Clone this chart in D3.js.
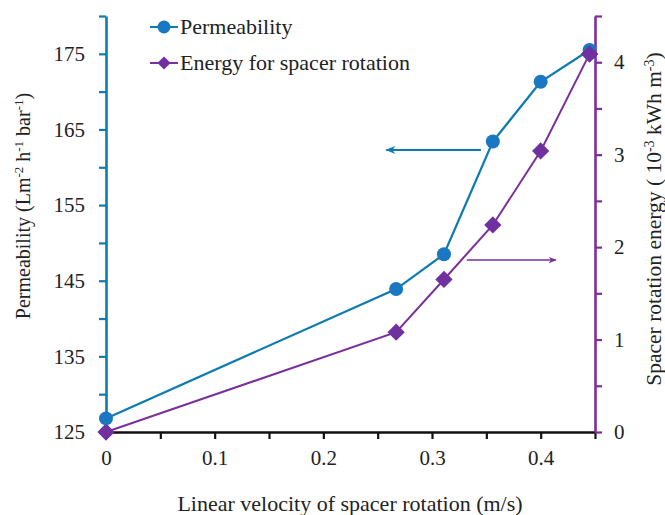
<!DOCTYPE html>
<html><head><meta charset="utf-8">
<script src="https://cdn.jsdelivr.net/npm/d3@7"></script>
<style>
html,body{margin:0;padding:0;background:#fff;}
svg{display:block;font-family:"Liberation Serif","Times New Roman",serif;}
</style></head>
<body>
<svg id="c" width="665" height="515"></svg>
<script>
// ---- data ----
const velocity = [0, 0.267, 0.311, 0.356, 0.400, 0.445];
const permeability = [126.8, 143.9, 148.5, 163.4, 171.3, 175.5];
const energy = [0, 1.08, 1.65, 2.24, 3.04, 4.09];
const xTicks = [0, 0.05, 0.1, 0.15, 0.2, 0.25, 0.3, 0.35, 0.4, 0.45];
const xTickLabels = ["0", "", "0.1", "", "0.2", "", "0.3", "", "0.4", ""];
const leftTicks = [125,130,135,140,145,150,155,160,165,170,175,180];
const leftTickLabels = ["125","","135","","145","","155","","165","","175",""];
const rightTicks = [0,0.5,1,1.5,2,2.5,3,3.5,4,4.5];
const rightTickLabels = ["0","","1","","2","","3","","4",""];
const seriesNames = ["Permeability", "Energy for spacer rotation"];
// annotation arrows: [x0, x1, y] in data units
const permArrow = [0.345, 0.258, 162.3];
const energyArrow = [0.332, 0.414, 1.86];

const blue = "#0e7bb0", blueMarker = "#1a78c2", purple = "#7a2f9c", purpleMarker = "#7030a0";

const W = 665, H = 515;
const m = {left:106, right:70, top:16, bottom:83};
const svg = d3.select("#c");

const x = d3.scaleLinear().domain([0, 0.45]).range([m.left, W - m.right]);
const yL = d3.scaleLinear().domain([125, 180]).range([H - m.bottom, m.top]);
const yR = d3.scaleLinear().domain([0, 4.5]).range([H - m.bottom, m.top]);

const defs = svg.append("defs");
function marker(id, col){
  defs.append("marker").attr("id", id).attr("viewBox","0 0 10 10").attr("refX",9).attr("refY",5)
    .attr("markerWidth",5).attr("markerHeight",5).attr("orient","auto")
    .append("path").attr("d","M0,1 L10,5 L0,9 L3,5 Z").attr("fill", col);
}
marker("ab", blue); marker("ap", purple);

// axes
const fs = 21;
const xa = svg.append("g").attr("transform",`translate(0,${H-m.bottom})`)
  .call(d3.axisBottom(x).tickValues(xTicks).tickFormat((d,i)=>xTickLabels[i]).tickSize(7).tickSizeOuter(0).tickPadding(11));
xa.select(".domain").attr("stroke","#111").attr("stroke-width",2.6);
xa.selectAll(".tick line").attr("stroke","#111").attr("stroke-width",2.2);
xa.selectAll("text").attr("font-size",fs).attr("fill","#222").attr("font-family","Liberation Serif");

const la = svg.append("g").attr("transform",`translate(${m.left},0)`)
  .call(d3.axisLeft(yL).tickValues(leftTicks).tickFormat((d,i)=>leftTickLabels[i]).tickSize(7).tickSizeOuter(0).tickPadding(14));
la.select(".domain").attr("stroke",blue).attr("stroke-width",2.6);
la.selectAll(".tick line").attr("stroke",blue).attr("stroke-width",2.2);
la.selectAll("text").attr("font-size",fs).attr("fill","#222").attr("font-family","Liberation Serif");

const ra = svg.append("g").attr("transform",`translate(${W-m.right},0)`)
  .call(d3.axisRight(yR).tickValues(rightTicks).tickFormat((d,i)=>rightTickLabels[i]).tickSize(7).tickSizeOuter(0).tickPadding(12));
ra.select(".domain").attr("stroke",purple).attr("stroke-width",2.6);
ra.selectAll(".tick line").attr("stroke",purple).attr("stroke-width",2.2);
ra.selectAll("text").attr("font-size",fs).attr("fill","#222").attr("font-family","Liberation Serif");

// series
const pts = velocity.map((v,i)=>({v, p:permeability[i], e:energy[i]}));
const lineP = d3.line().x(d=>x(d.v)).y(d=>yL(d.p));
const lineE = d3.line().x(d=>x(d.v)).y(d=>yR(d.e));

svg.append("path").datum(pts).attr("d",lineE).attr("fill","none").attr("stroke",purple).attr("stroke-width",2);
svg.append("path").datum(pts).attr("d",lineP).attr("fill","none").attr("stroke",blue).attr("stroke-width",2.2);

const hasD2 = !!d3.symbolDiamond2;
const diamond = d3.symbol().type(d3.symbolDiamond2 || d3.symbolSquare).size(190);
svg.selectAll(".dE").data(pts).join("path")
  .attr("transform",d=>`translate(${x(d.v)},${yR(d.e)}) rotate(${hasD2?0:45})`)
  .attr("d",diamond).attr("fill",purpleMarker);
svg.selectAll(".cP").data(pts).join("circle")
  .attr("cx",d=>x(d.v)).attr("cy",d=>yL(d.p)).attr("r",7).attr("fill",blueMarker);
// energy last marker drawn over permeability as in reference
svg.append("path").attr("transform",`translate(${x(velocity[5])},${yR(energy[5])}) rotate(${hasD2?0:45})`)
  .attr("d",diamond).attr("fill",purpleMarker);

// annotation arrows
svg.append("line").attr("x1",x(permArrow[0])).attr("x2",x(permArrow[1])).attr("y1",yL(permArrow[2])).attr("y2",yL(permArrow[2]))
  .attr("stroke",blue).attr("stroke-width",2).attr("marker-end","url(#ab)");
svg.append("line").attr("x1",x(energyArrow[0])).attr("x2",x(energyArrow[1])).attr("y1",yR(energyArrow[2])).attr("y2",yR(energyArrow[2]))
  .attr("stroke",purple).attr("stroke-width",1.6).attr("marker-end","url(#ap)");

// legend
const lg = svg.append("g");
const legendRows = [{name:seriesNames[0], col:blue, mcol:blueMarker, y:27, t:"c"},{name:seriesNames[1], col:purple, mcol:purpleMarker, y:63, t:"d"}];
legendRows.forEach(r=>{
  lg.append("line").attr("x1",150).attr("x2",178).attr("y1",r.y).attr("y2",r.y).attr("stroke",r.col).attr("stroke-width",2);
  if(r.t==="c") lg.append("circle").attr("cx",164).attr("cy",r.y).attr("r",6.5).attr("fill",r.mcol);
  else lg.append("path").attr("transform",`translate(164,${r.y}) rotate(${hasD2?0:45})`).attr("d",d3.symbol().type(d3.symbolDiamond2||d3.symbolSquare).size(110)).attr("fill",r.mcol);
  lg.append("text").attr("x",180).attr("y",r.y+7).attr("font-size",22).attr("fill","#222").text(r.name);
});

// axis titles
svg.append("text").attr("x",350).attr("y",511).attr("text-anchor","middle")
  .attr("font-size",22).attr("fill","#222").text("Linear velocity of spacer rotation (m/s)");

function sup(t, s, f){ t.append("tspan").attr("baseline-shift","super").attr("font-size",f).text(s); }
const lt = svg.append("text").attr("transform","translate(30,206) rotate(-90)").attr("text-anchor","middle")
  .attr("font-size",20).attr("fill","#222");
lt.append("tspan").text("Permeability (Lm");
sup(lt,"-2",13);
lt.append("tspan").text(" h");
sup(lt,"-1",13);
lt.append("tspan").text(" bar");
sup(lt,"-1",13);
lt.append("tspan").text(")");

const rt = svg.append("text").attr("transform","translate(661,219) rotate(-90)").attr("text-anchor","middle")
  .attr("font-size",21.5).attr("fill","#222");
rt.append("tspan").text("Spacer rotation energy ( 10");
sup(rt,"-3",14);
rt.append("tspan").text(" kWh m");
sup(rt,"-3",14);
rt.append("tspan").text(")");
</script>
</body></html>
